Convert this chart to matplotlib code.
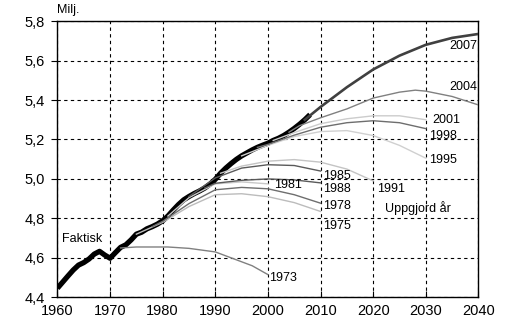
import numpy as np
import matplotlib
matplotlib.use('Agg')
import matplotlib.pyplot as plt
from matplotlib.ticker import FuncFormatter, MultipleLocator

plt.rcParams['font.family'] = ['Liberation Sans', 'DejaVu Sans']

# Faktisk folkmängd (milj.)
years_actual = list(range(1960, 2009))
actual = [4.446, 4.477, 4.508, 4.538, 4.563, 4.576, 4.594, 4.619, 4.633, 4.614,
          4.598, 4.626, 4.653, 4.666, 4.691, 4.720, 4.730, 4.747, 4.758, 4.771,
          4.788, 4.812, 4.842, 4.870, 4.894, 4.911, 4.926, 4.939, 4.954, 4.974,
          4.998, 5.029, 5.055, 5.078, 5.099, 5.117, 5.132, 5.147, 5.160, 5.171,
          5.181, 5.195, 5.206, 5.220, 5.237, 5.256, 5.277, 5.300, 5.326]

# Prognoser per uppgjord år: (år, värden)
proj_1973 = ([1972, 1975, 1981, 1985, 1990, 1994, 1997, 2000],
             [4.650, 4.655, 4.655, 4.648, 4.630, 4.590, 4.560, 4.515])
proj_1975 = ([1975, 1980, 1985, 1990, 1995, 2000, 2005, 2010],
             [4.720, 4.780, 4.860, 4.920, 4.925, 4.910, 4.880, 4.835])
proj_1978 = ([1978, 1980, 1985, 1990, 1995, 2000, 2005, 2010],
             [4.758, 4.785, 4.875, 4.945, 4.957, 4.950, 4.920, 4.877])
proj_1981 = ([1981, 1985, 1990, 1995, 2000],
             [4.812, 4.905, 4.975, 4.985, 4.975])
proj_1985 = ([1985, 1990, 1995, 2000, 2005, 2010],
             [4.911, 5.005, 5.055, 5.072, 5.068, 5.040])
proj_1988 = ([1988, 1990, 1995, 2000, 2005, 2010],
             [4.954, 4.978, 4.993, 5.000, 4.995, 4.980])
proj_1991 = ([1991, 1995, 2000, 2005, 2010, 2015, 2020],
             [5.029, 5.065, 5.090, 5.098, 5.085, 5.050, 4.990])
proj_1995 = ([1995, 2000, 2005, 2010, 2015, 2020, 2025, 2030],
             [5.117, 5.170, 5.215, 5.240, 5.245, 5.220, 5.170, 5.105])
proj_1998 = ([1998, 2000, 2005, 2010, 2015, 2020, 2025, 2030],
             [5.160, 5.175, 5.222, 5.262, 5.285, 5.295, 5.285, 5.255])
proj_2001 = ([2001, 2005, 2010, 2015, 2020, 2025, 2030],
             [5.195, 5.235, 5.280, 5.305, 5.320, 5.320, 5.300])
proj_2004 = ([2004, 2006, 2010, 2015, 2020, 2025, 2028, 2030, 2035, 2040],
             [5.237, 5.270, 5.310, 5.355, 5.410, 5.440, 5.450, 5.445, 5.418, 5.375])
proj_2007 = ([2007, 2010, 2015, 2020, 2025, 2030, 2035, 2040],
             [5.300, 5.365, 5.465, 5.555, 5.625, 5.680, 5.715, 5.735])

# etiketter: text, x, y
label_text = ['2007', '2004', '2001', '1998', '1995', '1991', '1985', '1988',
              '1978', '1975', '1981', '1973']
label_x = [2039.8, 2039.8, 2031.2, 2030.7, 2030.7, 2020.8, 2010.4, 2010.4,
           2010.4, 2010.4, 2001.2, 2000.3]
label_y = [5.675, 5.464, 5.297, 5.217, 5.094, 4.951, 5.017, 4.950,
           4.865, 4.759, 4.968, 4.497]

fig = plt.figure(figsize=(5.22, 3.23), dpi=100)
ax = fig.add_axes([0.110, 0.0796, 0.8066, 0.855])

ax.plot(years_actual, actual, color='black', lw=3.8, solid_capstyle='butt', zorder=3)

styles = [
    (proj_1973, '#808080', 1.0),
    (proj_1975, '#bcbcbc', 1.0),
    (proj_1978, '#6e6e6e', 1.0),
    (proj_1981, '#c8c8c8', 1.0),
    (proj_1985, '#5a5a5a', 1.0),
    (proj_1988, '#5a5a5a', 1.0),
    (proj_1991, '#c4c4c4', 1.0),
    (proj_1995, '#d0d0d0', 1.0),
    (proj_1998, '#6e6e6e', 1.0),
    (proj_2001, '#cccccc', 1.0),
    (proj_2004, '#808080', 1.0),
    (proj_2007, '#404040', 1.9),
]
for (xs, ys), c, w in styles:
    ax.plot(xs, ys, color=c, lw=w, zorder=4)

for t, x, y in zip(label_text, label_x, label_y):
    ha = 'right' if t in ('2007', '2004') else 'left'
    ax.text(x, y, t, fontsize=9, ha=ha, va='center', zorder=5)

ax.text(2022.3, 4.853, 'Uppgjord år', fontsize=9, ha='left', va='center')
ax.text(1960.9, 4.697, 'Faktisk', fontsize=9, ha='left', va='center')
fig.text(0.110, 0.969, 'Milj.', fontsize=9, ha='left', va='center')

ax.set_xlim(1960, 2040)
ax.set_ylim(4.4, 5.8)
ax.xaxis.set_major_locator(MultipleLocator(10))
ax.yaxis.set_major_locator(MultipleLocator(0.2))
ax.yaxis.set_major_formatter(FuncFormatter(lambda v, p: f'{v:.1f}'.replace('.', ',')))
ax.grid(True, color='black', linestyle=(0, (3, 3)), linewidth=0.8)
ax.set_axisbelow(True)
ax.tick_params(axis='x', direction='in', length=4, width=0.8, labelsize=10.5, pad=5)
ax.tick_params(axis='y', direction='out', length=4, width=0.8, labelsize=10.5, pad=5)
for s in ax.spines.values():
    s.set_linewidth(1.0)

fig.savefig('out.png', dpi=100)
